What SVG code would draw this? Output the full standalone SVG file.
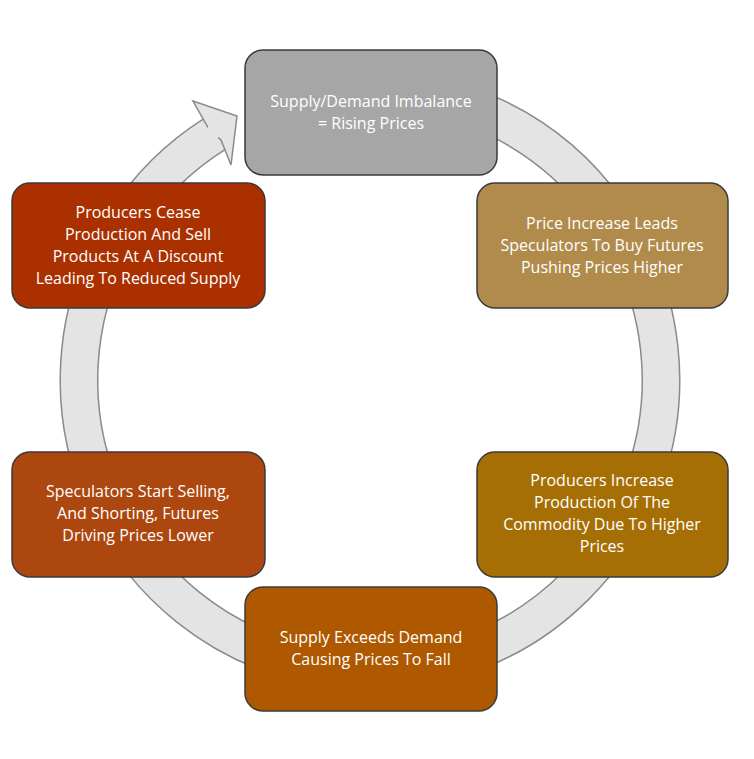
<svg xmlns="http://www.w3.org/2000/svg" width="754" height="759" viewBox="0 0 754 759">
<style>
.box{stroke:#3a3a3a;stroke-width:1.5}
.t{font-family:"Open Sans",Lato,sans-serif;font-size:16px;fill:#fff;text-anchor:middle}
</style>
<rect width="754" height="759" fill="#fff"/>
<g id="connectors">
<path d="M370 89 A291 291 0 1 1 215.8 133.2" fill="none" stroke="#8a8a8a" stroke-width="39"/>
<path d="M370 89 A291 291 0 1 1 215.8 133.2" fill="none" stroke="#e4e4e4" stroke-width="36"/>
<polygon points="193,101 237,116 231,165 221,140 210,131" fill="#e4e4e4" stroke="#8a8a8a" stroke-width="1.5"/>
<rect x="205" y="123" width="14" height="22" fill="#e4e4e4" transform="rotate(32 212 134)"/>
</g>
<g id="n1"><rect class="box" x="245" y="50" width="252" height="125" rx="18" fill="#a6a6a6"/>
<text class="t" x="371" y="107">Supply/Demand Imbalance</text><text class="t" x="371" y="129">= Rising Prices</text></g>
<g id="n2"><rect class="box" x="477" y="183" width="251" height="125" rx="18" fill="#b18b4b"/>
<text class="t" x="602" y="229">Price Increase Leads</text><text class="t" x="602" y="251">Speculators To Buy Futures</text><text class="t" x="602" y="273">Pushing Prices Higher</text></g>
<g id="n3"><rect class="box" x="477" y="452" width="251" height="125" rx="18" fill="#a66f05"/>
<text class="t" x="602" y="486">Producers Increase</text><text class="t" x="602" y="508">Production Of The</text><text class="t" x="602" y="530">Commodity Due To Higher</text><text class="t" x="602" y="552">Prices</text></g>
<g id="n4"><rect class="box" x="245" y="587" width="252" height="124" rx="18" fill="#ae5800"/>
<text class="t" x="371" y="643">Supply Exceeds Demand</text><text class="t" x="371" y="665">Causing Prices To Fall</text></g>
<g id="n5"><rect class="box" x="12" y="452" width="253" height="125" rx="18" fill="#ad4710"/>
<text class="t" x="138" y="497">Speculators Start Selling,</text><text class="t" x="138" y="519">And Shorting, Futures</text><text class="t" x="138" y="541">Driving Prices Lower</text></g>
<g id="n6"><rect class="box" x="12" y="183" width="253" height="125" rx="18" fill="#ab3000"/>
<text class="t" x="138" y="218">Producers Cease</text><text class="t" x="138" y="240">Production And Sell</text><text class="t" x="138" y="262">Products At A Discount</text><text class="t" x="138" y="284">Leading To Reduced Supply</text></g>
</svg>
